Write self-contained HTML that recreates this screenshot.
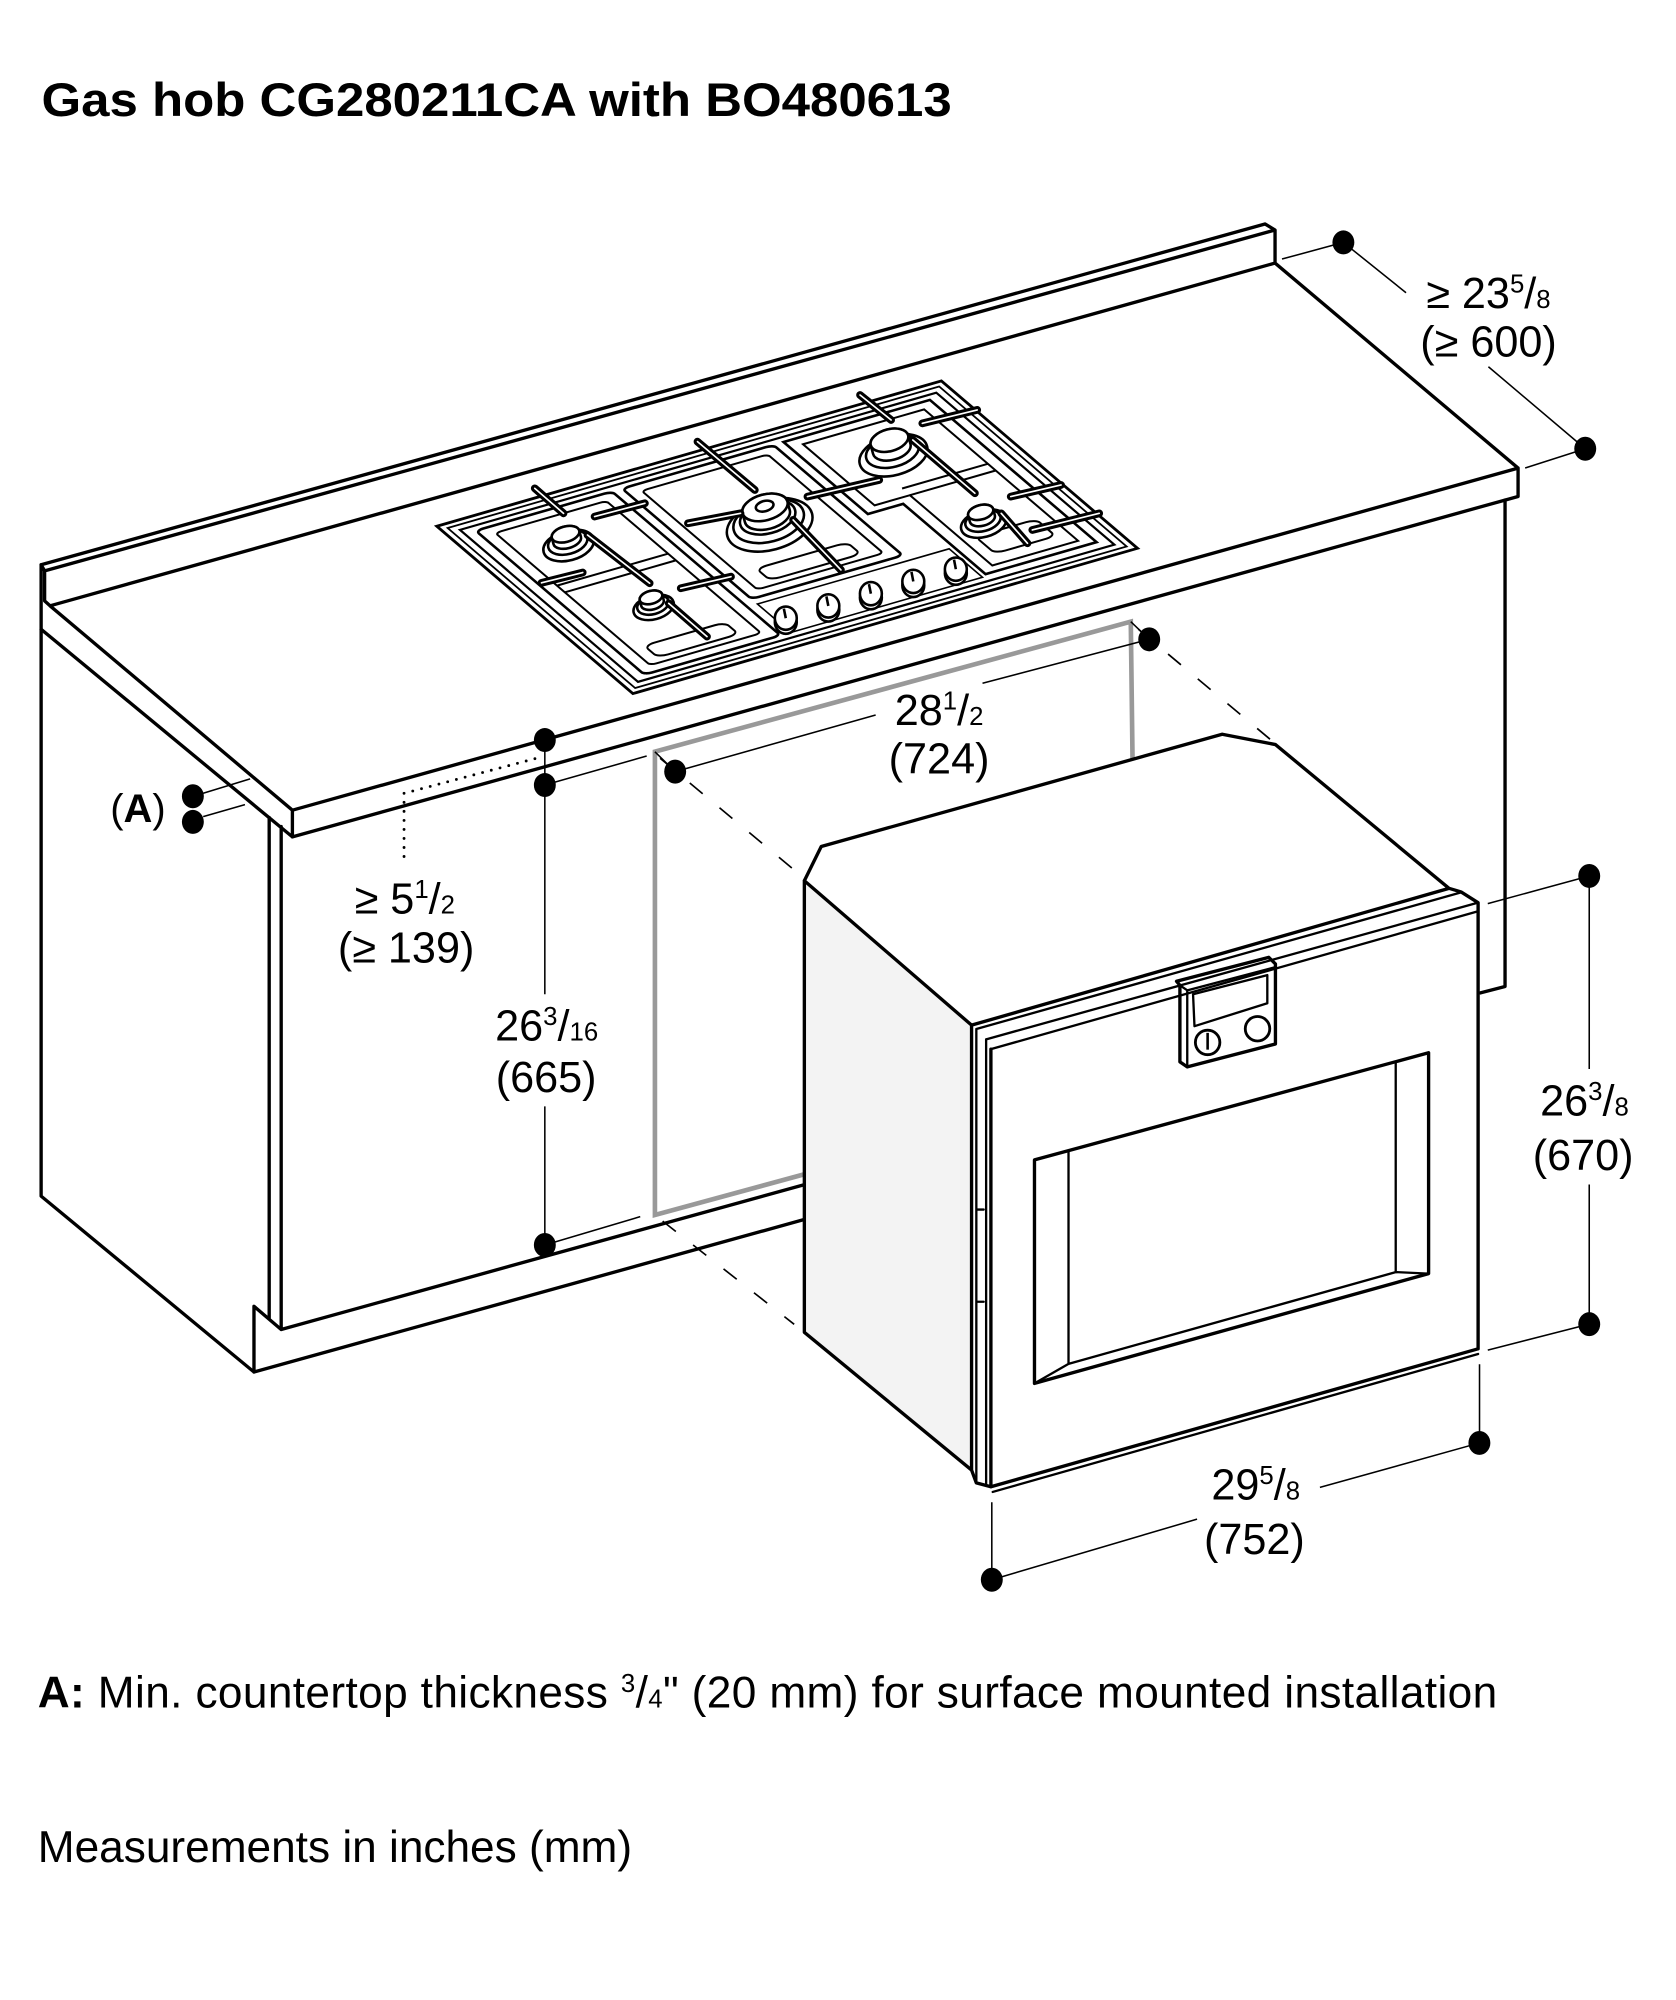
<!DOCTYPE html>
<html><head><meta charset="utf-8"><style>
html,body{margin:0;padding:0;background:#fff}
svg{display:block}
.m{fill:none;stroke:#000;stroke-width:2.6;stroke-linejoin:round;stroke-linecap:round}
.n{fill:none;stroke:#000;stroke-width:1.8;stroke-linejoin:round;stroke-linecap:round}
.t{fill:none;stroke:#000;stroke-width:1.2}
.d{fill:none;stroke:#000;stroke-width:1.3;stroke-dasharray:13 17}
text{font-family:"Liberation Sans",Arial,sans-serif;fill:#000}
.hob *{vector-effect:non-scaling-stroke}
.bar line{stroke:#000;stroke-width:6;stroke-linecap:round}
.barw line{stroke:#fff;stroke-width:1.3;stroke-linecap:round}
.bu{fill:#fff;stroke:#000;stroke-width:2}
</style></head><body>
<svg xmlns="http://www.w3.org/2000/svg" width="1676" height="2000" viewBox="0 0 1300 1551" preserveAspectRatio="none">

<text x="32.2" y="90" font-size="36.5" font-weight="bold" textLength="706" lengthAdjust="spacingAndGlyphs">Gas hob CG280211CA with BO480613</text>

<!-- countertop + backsplash -->
<path class="m" d="M31.9,438 L981.2,173.7 L989,178.4 L989,204 M34.6,442.7 L989,178.4 M31.9,438 L34.6,442.7 L34.6,466 L38.8,469.8 L989,204 M38.8,469.8 L226.8,628.3 L1177.5,363 L989,204 M31.9,488 L226.8,649 L1177.5,385 L1177.5,363 M226.8,628.3 L226.8,649"/>
<!-- cabinet -->
<path class="m" d="M31.9,438 L31.9,927.6 L197,1064 L197,1013 L218.1,1031 L218.1,641 M208.8,634 L208.8,1022 M218.1,1031 L630,917 M197,1064 L630,944"/>
<path class="m" d="M1167.4,387.8 L1167.4,765 L1148.3,770"/>

<!-- hob -->
<g class="hob" transform="matrix(3.914,-1.127,1.521,1.298,338.8,408.1)">
 <rect x="0" y="0" width="100" height="100" fill="#fff" stroke="#000" stroke-width="2.8"/>
 <rect x="1.3" y="2.2" width="97.4" height="95.6" fill="none" stroke="#000" stroke-width="1.8"/>
 <rect x="2.8" y="4.6" width="94.4" height="90.8" fill="none" stroke="#000" stroke-width="2.2"/>
 <rect x="5" y="7" width="27" height="86" rx="1.5" fill="none" stroke="#000" stroke-width="2.6"/>
 <rect x="7.5" y="10.5" width="22" height="79" rx="1.2" fill="none" stroke="#000" stroke-width="2"/>
 <path d="M7.5,42 H29.5 M7.5,46 H29.5" fill="none" stroke="#000" stroke-width="2"/>
 <rect x="34" y="7" width="30" height="66" rx="1.5" fill="none" stroke="#000" stroke-width="2.6"/>
 <rect x="36.5" y="10.5" width="25" height="59" rx="1.2" fill="none" stroke="#000" stroke-width="2"/>
 <path d="M66,7 H95 V92 H73 V50 H66 Z" fill="none" stroke="#000" stroke-width="2.6"/>
 <path d="M68.5,10.5 H92.5 V89 H75.5 V47 H68.5 Z" fill="none" stroke="#000" stroke-width="2"/>
 <path d="M75.5,43 H92.5 M75.5,47 H92.5" fill="none" stroke="#000" stroke-width="2"/>
 <rect x="78" y="74" width="12" height="10" rx="2" fill="none" stroke="#000" stroke-width="2"/>
 <rect x="10" y="80" width="16" height="7" rx="2" fill="none" stroke="#000" stroke-width="2"/>
 <rect x="40" y="60" width="18" height="7" rx="2" fill="none" stroke="#000" stroke-width="2"/>
 <path d="M34,76 H72 V93 H34 Z" fill="none" stroke="#000" stroke-width="1.6"/>
</g>

<!-- burners -->
<g transform="translate(441,423) rotate(-15)">
 <ellipse class="bu" rx="20" ry="11.6"/><ellipse class="bu" cy="-2.4" rx="15.6" ry="9"/>
 <path class="bu" d="M-11,-4 V-9 A11,6 0 0 1 11,-9 V-4 A11,6 0 0 1 -11,-4 Z"/><ellipse class="bu" cy="-9" rx="11" ry="6"/>
</g>
<g transform="translate(507,471) rotate(-15)">
 <ellipse class="bu" rx="16" ry="9.3"/><ellipse class="bu" cy="-2" rx="12.5" ry="7.2"/>
 <path class="bu" d="M-9,-3.5 V-8 A9,5 0 0 1 9,-8 V-3.5 A9,5 0 0 1 -9,-3.5 Z"/><ellipse class="bu" cy="-8" rx="9" ry="5"/>
</g>
<g transform="translate(597,407) rotate(-15)">
 <ellipse class="bu" rx="34" ry="19.5"/><ellipse class="bu" cy="-3" rx="28" ry="16"/><ellipse class="bu" cy="-6" rx="22" ry="12.5"/>
 <path class="bu" d="M-18,-7 V-14 A18,10 0 0 1 18,-14 V-7 A18,10 0 0 1 -18,-7 Z"/><ellipse class="bu" cy="-14" rx="18" ry="10"/>
 <ellipse class="bu" cy="-15" rx="7" ry="4"/>
</g>
<g transform="translate(693,353) rotate(-15)">
 <ellipse class="bu" rx="27" ry="15.5"/><ellipse class="bu" cy="-3" rx="21" ry="12"/>
 <path class="bu" d="M-15,-5 V-12 A15,8.5 0 0 1 15,-12 V-5 A15,8.5 0 0 1 -15,-5 Z"/><ellipse class="bu" cy="-12" rx="15" ry="8.5"/>
</g>
<g transform="translate(763,406) rotate(-15)">
 <ellipse class="bu" rx="18" ry="10.4"/><ellipse class="bu" cy="-2.2" rx="14" ry="8"/>
 <path class="bu" d="M-10,-4 V-9 A10,5.6 0 0 1 10,-9 V-4 A10,5.6 0 0 1 -10,-4 Z"/><ellipse class="bu" cy="-9" rx="10" ry="5.6"/>
</g>

<!-- pan support bars (screen coords) -->
<g class="bar">
 <line x1="414.8" y1="378.7" x2="437.1" y2="398.1"/>
 <line x1="461.2" y1="400.6" x2="500.2" y2="390.3"/>
 <line x1="455.7" y1="414.9" x2="503.9" y2="452.3"/>
 <line x1="528" y1="456.2" x2="567" y2="447.2"/>
 <line x1="518.7" y1="467.9" x2="548.4" y2="493.7"/>
 <line x1="541" y1="342.5" x2="585.5" y2="380"/>
 <line x1="533.6" y1="405.8" x2="574.4" y2="398.1"/>
 <line x1="615.2" y1="403.2" x2="652.3" y2="442"/>
 <line x1="626.3" y1="385.1" x2="682" y2="372.2"/>
 <line x1="667.1" y1="306.3" x2="691.2" y2="325.7"/>
 <line x1="715.4" y1="328.3" x2="758" y2="317.9"/>
 <line x1="708" y1="341.2" x2="756.2" y2="382.5"/>
 <line x1="784" y1="385.1" x2="823" y2="376.1"/>
 <line x1="776.6" y1="398.1" x2="797" y2="421.3"/>
 <line x1="800.7" y1="411" x2="852.6" y2="398.1"/>
 <line x1="420" y1="452" x2="452" y2="444"/>
</g>
<g class="barw">
 <line x1="414.8" y1="378.7" x2="437.1" y2="398.1"/>
 <line x1="461.2" y1="400.6" x2="500.2" y2="390.3"/>
 <line x1="455.7" y1="414.9" x2="503.9" y2="452.3"/>
 <line x1="528" y1="456.2" x2="567" y2="447.2"/>
 <line x1="518.7" y1="467.9" x2="548.4" y2="493.7"/>
 <line x1="541" y1="342.5" x2="585.5" y2="380"/>
 <line x1="533.6" y1="405.8" x2="574.4" y2="398.1"/>
 <line x1="615.2" y1="403.2" x2="652.3" y2="442"/>
 <line x1="626.3" y1="385.1" x2="682" y2="372.2"/>
 <line x1="667.1" y1="306.3" x2="691.2" y2="325.7"/>
 <line x1="715.4" y1="328.3" x2="758" y2="317.9"/>
 <line x1="708" y1="341.2" x2="756.2" y2="382.5"/>
 <line x1="784" y1="385.1" x2="823" y2="376.1"/>
 <line x1="776.6" y1="398.1" x2="797" y2="421.3"/>
 <line x1="800.7" y1="411" x2="852.6" y2="398.1"/>
 <line x1="420" y1="452" x2="452" y2="444"/>
</g>

<!-- knobs -->
<g fill="#fff" stroke="#000" stroke-width="2">
 <ellipse cx="609.5" cy="482.5" rx="8.5" ry="9"/><ellipse cx="609.5" cy="479.4" rx="8.5" ry="9"/><line x1="609.5" y1="479.4" x2="608" y2="472"/>
 <ellipse cx="642.5" cy="473" rx="8.5" ry="9"/><ellipse cx="642.5" cy="469.9" rx="8.5" ry="9"/><line x1="642.5" y1="469.9" x2="641" y2="462.5"/>
 <ellipse cx="675.5" cy="463.5" rx="8.5" ry="9"/><ellipse cx="675.5" cy="460.4" rx="8.5" ry="9"/><line x1="675.5" y1="460.4" x2="674" y2="453"/>
 <ellipse cx="708.4" cy="454" rx="8.5" ry="9"/><ellipse cx="708.4" cy="450.9" rx="8.5" ry="9"/><line x1="708.4" y1="450.9" x2="707" y2="443.5"/>
 <ellipse cx="741.4" cy="444.5" rx="8.5" ry="9"/><ellipse cx="741.4" cy="441.4" rx="8.5" ry="9"/><line x1="741.4" y1="441.4" x2="740" y2="434"/>
</g>

<!-- niche opening (gray) -->
<path d="M878.6,600 L877.1,482.1 L508,582.9 L508,942.2 L630,909" fill="none" stroke="#999" stroke-width="3.6" stroke-linejoin="miter"/>

<!-- dashed projection lines -->
<line class="d" x1="512" y1="588" x2="620" y2="678"/>
<line class="d" x1="883" y1="488" x2="986" y2="574"/>
<line class="d" x1="514" y1="947" x2="616" y2="1027"/>

<!-- left dims -->
<path d="M313.4,615.2 L420.7,586.8 M313.4,615.2 L313.4,668.5" fill="none" stroke="#000" stroke-width="2.2" stroke-dasharray="0 7" stroke-linecap="round"/>
<path class="t" d="M422.6,573.9 L422.6,771 M422.6,858 L422.6,965.5 M422.6,608.8 L501.6,586.3 M422.6,965.5 L496.6,943.5"/>
<path class="t" d="M157.6,615.2 L194,604 M157.6,633.3 L190,624"/>
<path class="t" d="M508,583 L523.7,598.4 M877.1,482.1 L891.4,495.8 M523.7,598.4 L679.2,554.5 M762.1,529.9 L891.4,495.8"/>
<path class="t" d="M994.4,200.9 L1042,188 M1183,362.9 L1229.6,348 M1042,188 L1090.6,227 M1154.5,284.4 L1229.6,348"/>
<g fill="#000">
 <ellipse cx="422.6" cy="573.9" rx="8.5" ry="9.3"/>
 <ellipse cx="422.6" cy="608.8" rx="8.5" ry="9.3"/>
 <ellipse cx="422.6" cy="965.5" rx="8.5" ry="9.3"/>
 <ellipse cx="149.6" cy="617.5" rx="8.5" ry="9.3"/>
 <ellipse cx="149.6" cy="637.4" rx="8.5" ry="9.3"/>
 <ellipse cx="523.7" cy="598.4" rx="8.5" ry="9.3"/>
 <ellipse cx="891.4" cy="495.8" rx="8.5" ry="9.3"/>
 <ellipse cx="1042" cy="188" rx="8.5" ry="9.3"/>
 <ellipse cx="1229.6" cy="348" rx="8.5" ry="9.3"/>
</g>

<!-- oven -->
<polygon fill="#fff" points="623.9,683 637,656.5 948,569.4 989.3,577.4 1123.9,688.9 753.6,795"/>
<polygon fill="#f3f3f3" points="623.9,683 753.6,795 753.6,1140 623.9,1033.2"/>
<polygon fill="#fff" points="753.6,795 1123.9,688.9 1133.3,691.7 1146.5,700 1146.5,1049 768.6,1154 757.3,1150 753.6,1140"/>
<path class="m" d="M623.9,683 L637,656.5 L948,569.4 L989.3,577.4 L1123.9,688.9 M623.9,683 L753.6,795 M623.9,683 L623.9,1033.2 L753.6,1140 M753.6,795 L753.6,1140 L757.3,1150 L768.6,1153 M753.6,795 L1123.9,688.9 L1133.3,691.7 L1146.5,700 L1146.5,1046 M768.6,1153 L1146.5,1046 M768.6,813.6 L768.6,1153"/>
<path class="n" d="M757.3,798 L757.3,1150 M764.9,806 L764.9,1152 M757.3,798 L1133.3,692 M764.9,806 L1146.5,700 M768.6,813.6 L1146.5,706.7 M770,1157 L1146.5,1050 M757.3,938 L763,938 M757.3,1009.5 L763,1009.5"/>
<!-- control panel -->
<polygon class="m" fill="#fff" points="912.6,761 984.1,742.4 989.3,747.5 989.3,809.6 920.9,827.4 915.2,823.5 915.2,764.1"/>
<path class="n" d="M915.2,764.1 L920.9,768 L989.3,750 M920.9,768 L920.9,827.4"/>
<polygon class="n" fill="#fff" points="925.4,771 983,756.2 983,778 926.5,795.8"/>
<circle cx="936.7" cy="808.4" r="9.5" fill="#fff" stroke="#000" stroke-width="2.2"/>
<circle cx="975.4" cy="797.8" r="9.5" fill="#fff" stroke="#000" stroke-width="2.2"/>
<line x1="936.7" y1="801" x2="936.7" y2="814" stroke="#000" stroke-width="2"/>
<!-- window -->
<path class="m" d="M802.4,899.5 L1108.1,816.4 L1108.1,987.7 L802.4,1072.8 Z"/>
<path class="n" d="M828.8,892.3 L828.8,1057.7 L1082.6,986.5 L1082.6,823.3 M802.4,1072.8 L828.8,1057.7 M1082.6,986.5 L1108.1,987.7"/>

<!-- right dims -->
<path class="t" d="M1154,700.8 L1232.7,679.3 M1154,1047 L1232.7,1026.9 M1232.7,679.3 L1232.7,829 M1232.7,918.6 L1232.7,1026.9"/>
<path class="t" d="M1147.6,1058 L1147.6,1119 M769.3,1165 L769.3,1225.1 M769.3,1225.1 L928.5,1178.1 M1023.8,1153.5 L1147.5,1119"/>
<g fill="#000">
 <ellipse cx="1232.7" cy="679.3" rx="8.5" ry="9.3"/>
 <ellipse cx="1232.7" cy="1026.9" rx="8.5" ry="9.3"/>
 <ellipse cx="1147.5" cy="1119" rx="8.5" ry="9.3"/>
 <ellipse cx="769.3" cy="1225.1" rx="8.5" ry="9.3"/>
</g>

<!-- labels -->
<g font-size="33.5" text-anchor="middle">
 <text x="1154.5" y="239">≥ 23<tspan font-size="20" dy="-12">5</tspan><tspan dy="12">/</tspan><tspan font-size="20">8</tspan></text>
 <text x="1154.6" y="276.6">(≥ 600)</text>
 <text x="728.4" y="562.2">28<tspan font-size="20" dy="-12">1</tspan><tspan dy="12">/</tspan><tspan font-size="20">2</tspan></text>
 <text x="728.4" y="599.7">(724)</text>
 <text x="314" y="708.3">≥ 5<tspan font-size="20" dy="-12">1</tspan><tspan dy="12">/</tspan><tspan font-size="20">2</tspan></text>
 <text x="315" y="746.4">(≥ 139)</text>
 <text x="424" y="806.8">26<tspan font-size="20" dy="-12">3</tspan><tspan dy="12">/</tspan><tspan font-size="20">16</tspan></text>
 <text x="423.6" y="847">(665)</text>
 <text x="1229" y="865">26<tspan font-size="20" dy="-12">3</tspan><tspan dy="12">/</tspan><tspan font-size="20">8</tspan></text>
 <text x="1228" y="907.4">(670)</text>
 <text x="974" y="1163">29<tspan font-size="20" dy="-12">5</tspan><tspan dy="12">/</tspan><tspan font-size="20">8</tspan></text>
 <text x="973" y="1205">(752)</text>
 <text x="107" y="637.5" font-size="31">(<tspan font-weight="bold">A</tspan>)</text>
</g>

<text x="29.3" y="1324" font-size="34.3" textLength="1132"><tspan font-weight="bold">A:</tspan> Min. countertop thickness <tspan font-size="20" dy="-12">3</tspan><tspan dy="12">/</tspan><tspan font-size="20">4</tspan>" (20 mm) for surface mounted installation</text>
<text x="29.3" y="1444" font-size="34.3" textLength="461">Measurements in inches (mm)</text>
</svg>
</body></html>
